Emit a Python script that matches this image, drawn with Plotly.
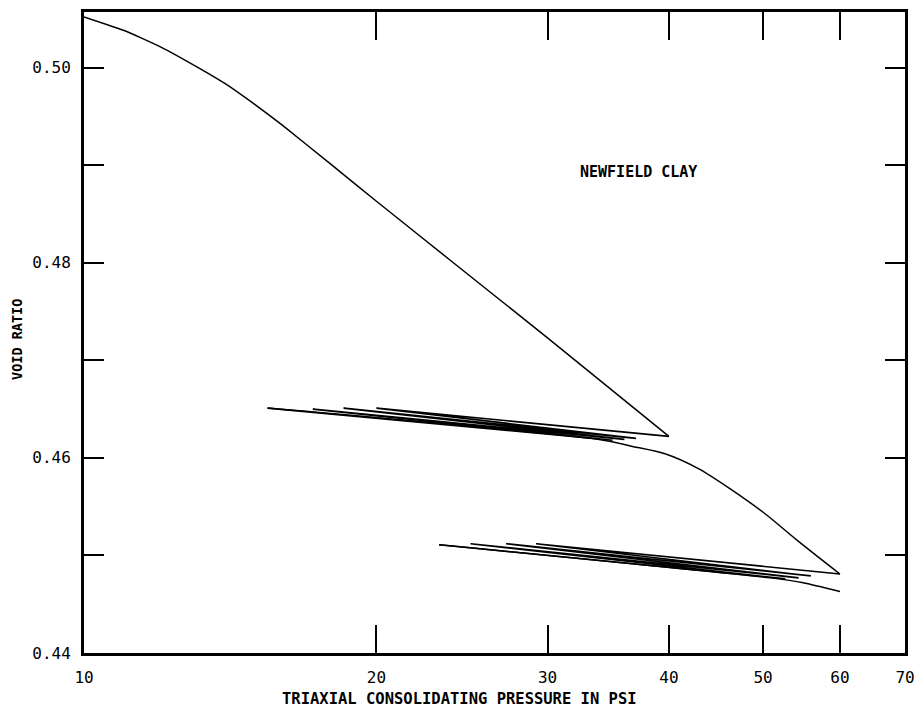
import math
import plotly.graph_objects as go

# ---- data ----
# virgin consolidation curve
virgin_p = [10, 11, 12, 13, 14, 15, 16, 18, 20, 24, 30, 40]
virgin_e = [0.5052, 0.5038, 0.5021, 0.5002, 0.4983, 0.4962, 0.4941, 0.4900,
            0.4863, 0.4800, 0.4723, 0.4622]

# unload / reload cycles at 40 psi
loops40_p = [40, 20.0, 37.0, 18.5, 36.0, 17.2, 35.0, 15.45]
loops40_e = [0.4622, 0.4651, 0.4620, 0.4651, 0.4619, 0.4650, 0.4618, 0.4651]

# reloading from the 40 psi cycles up to 60 psi
reload_p = [15.45, 33.8, 36.6, 39.7, 42.9, 46.3, 50.2, 54.3, 60]
reload_e = [0.4651, 0.4619, 0.4612, 0.4604, 0.4589, 0.4568, 0.4543, 0.4515, 0.4481]

# unload / reload cycles at 60 psi
loops60_p = [60, 29.2, 56.0, 27.2, 54.4, 25.0, 52.7, 23.2]
loops60_e = [0.4481, 0.4512, 0.4479, 0.4512, 0.4477, 0.4512, 0.4476, 0.4511]

# final reloading branch
final_p = [23.2, 50.9, 55.0, 60]
final_e = [0.4511, 0.4477, 0.4472, 0.4463]

x_tick_vals = [10, 20, 30, 40, 50, 60, 70]
x_tick_text = ["10", "20", "30", "40", "50", "60", "70"]
y_tick_vals = [0.44, 0.45, 0.46, 0.47, 0.48, 0.49, 0.50]
y_tick_text = ["0.44", "", "0.46", "", "0.48", "", "0.50"]

x_title = "TRIAXIAL CONSOLIDATING PRESSURE IN PSI"
y_title = "VOID RATIO"
label_text = "NEWFIELD CLAY"

FONT = "DejaVu Sans Mono, monospace"

W, H = 915, 708
# plot area in page pixels
PL, PR, PT, PB = 84, 905, 12, 653
PW, PH = PR - PL, PB - PT

fig = go.Figure()
line_style = dict(color="black", width=1.6)
fig.add_trace(go.Scatter(x=virgin_p, y=virgin_e, mode="lines",
                         line=dict(color="black", width=1.5, shape="spline", smoothing=0.4)))
fig.add_trace(go.Scatter(x=loops40_p, y=loops40_e, mode="lines", line=line_style))
fig.add_trace(go.Scatter(x=reload_p, y=reload_e, mode="lines",
                         line=dict(color="black", width=1.5, shape="spline", smoothing=0.8)))
fig.add_trace(go.Scatter(x=loops60_p, y=loops60_e, mode="lines", line=line_style))
fig.add_trace(go.Scatter(x=final_p, y=final_e, mode="lines",
                         line=dict(color="black", width=1.5, shape="spline", smoothing=0.6)))

fig.update_layout(
    width=W, height=H,
    margin=dict(l=PL, r=W - PR, t=PT, b=H - PB),
    paper_bgcolor="white", plot_bgcolor="white",
    showlegend=False,
    font=dict(family=FONT, color="black"),
    xaxis=dict(
        type="log", range=[1, math.log10(70)],
        tickvals=x_tick_vals, ticktext=x_tick_text,
        ticks="inside", ticklen=28, tickwidth=2, tickcolor="black",
        showline=True, linewidth=3, linecolor="black", mirror="ticks",
        showgrid=False, zeroline=False, automargin=False,
        tickfont=dict(family=FONT, size=16, color="black"),
        ticklabelstandoff=8,
    ),
    yaxis=dict(
        range=[0.44, 0.5057],
        tickvals=y_tick_vals, ticktext=y_tick_text,
        ticks="inside", ticklen=20, tickwidth=2, tickcolor="black",
        showline=True, linewidth=3, linecolor="black", mirror="ticks",
        showgrid=False, zeroline=False, automargin=False,
        tickfont=dict(family=FONT, size=16, color="black"),
        ticklabelstandoff=7,
    ),
    annotations=[
        dict(text="<b>" + label_text + "</b>", xref="paper", yref="y",
             x=(638 - PL) / PW, y=0.4893,
             showarrow=False, font=dict(family=FONT, size=15, color="black"),
             xanchor="center", yanchor="middle"),
        dict(text="<b>" + x_title + "</b>", xref="paper", yref="paper",
             x=(459 - PL) / PW, y=-(699 - PB) / PH,
             showarrow=False, font=dict(family=FONT, size=15.5, color="black"),
             xanchor="center", yanchor="middle"),
        dict(text="<b>" + y_title + "</b>", xref="paper", yref="paper",
             x=-(PL - 17) / PW, y=(PB - 340) / PH, textangle=-90,
             showarrow=False, font=dict(family=FONT, size=13.5, color="black"),
             xanchor="center", yanchor="middle"),
    ],
)

fig.write_html(
    "out.html",
    config={"displayModeBar": False},
    post_script="document.body.style.margin='0';document.body.style.overflow='hidden';",
)
